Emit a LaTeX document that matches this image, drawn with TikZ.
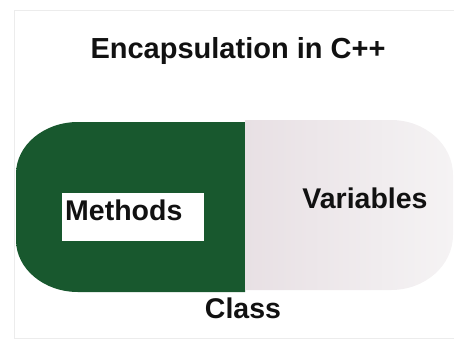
\documentclass[tikz,border=0pt]{standalone}
\usepackage{fontspec}
\setmainfont{Liberation Sans}
\usepackage{tikz}

\definecolor{pillgreen}{RGB}{32,110,60}
\definecolor{pilldark}{RGB}{24,88,46}
\definecolor{pillshell}{RGB}{232,224,228}
\definecolor{pilllight}{RGB}{245,243,244}
\definecolor{framegray}{RGB}{236,236,236}
\definecolor{inkblack}{RGB}{17,17,17}

\tikzset{
  label/.style={font=\fontsize{28.5}{30}\selectfont\bfseries, text=inkblack, inner sep=0pt, anchor=base},
  tag/.style={fill=white, inner sep=0pt, minimum width=142, minimum height=48}
}

\begin{document}
\begin{tikzpicture}[x=1pt,y=1pt]
  \useasboundingbox (0,0) rectangle (454,341);
  \draw[framegray] (454,331) -- (14,331) -- (14,3) -- (454,3);

  % left half of the capsule
  \shade[top color=pilldark, middle color=pillgreen, bottom color=pilldark]
    (245,219) -- (78,219)
    arc[start angle=90, end angle=180, x radius=62, y radius=52] -- (16,101)
    arc[start angle=180, end angle=270, x radius=62, y radius=52] -- (245,49) -- cycle;
  % right half
  \shade[left color=pillshell, right color=pilllight]
    (245,221) -- (391,221)
    arc[start angle=90, end angle=0, x radius=62, y radius=55] -- (453,106)
    arc[start angle=0, end angle=-90, x radius=62, y radius=55] -- (245,51) -- cycle;

  \node[label, font=\fontsize{29}{31}\selectfont\bfseries] (title) at (238,283) {Encapsulation in C++};
  \node[tag] (box) at (133,124) {};
  \node[label, anchor=base west] (methods) at (65,121) {Methods};
  \node[label] (variables) at (365,133) {Variables};
  \node[label] (class) at (243,23) {Class};
\end{tikzpicture}
\end{document}
